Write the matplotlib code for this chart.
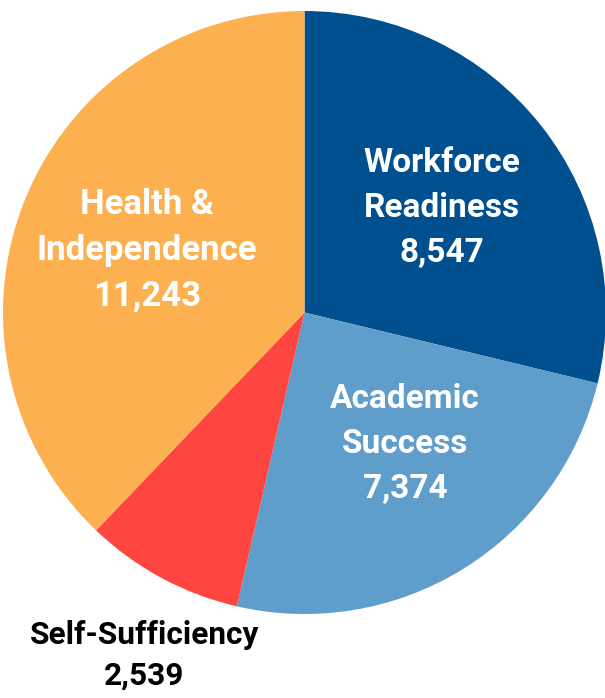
import matplotlib.pyplot as plt

# Data
categories = ['Workforce\nReadiness', 'Academic\nSuccess', 'Self-Sufficiency', 'Health &\nIndependence']
values = [8547, 7374, 2539, 11243]
colors = ['#00508F', '#5F9ECB', '#FF453F', '#FDB050']
text_colors = ['white', 'white', 'black', 'white']
# label centres (x, y) in pie units, font sizes and line spacing
label_pos = [(0.456, 0.347), (0.333, -0.436), (-0.532, -1.136), (-0.522, 0.207)]
label_size = [24, 24, 22.8, 25]
label_spacing = [1.52, 1.52, 1.42, 1.48]

fig = plt.figure(figsize=(6.05, 6.98), dpi=100)
ax = fig.add_axes([0.005, 0.1203, 0.9967, 0.8639])

ax.pie(values, colors=colors, startangle=90, counterclock=False,
       radius=1, wedgeprops=dict(linewidth=0))

for cat, val, tc, (x, y), fs, ls in zip(categories, values, text_colors,
                                        label_pos, label_size, label_spacing):
    ax.text(x, y, f"{cat}\n{val:,}", ha='center', va='center',
            color=tc, fontsize=fs, fontweight='bold', family='Roboto',
            linespacing=ls)

ax.set_xlim(-1, 1)
ax.set_ylim(-1, 1)
ax.set_aspect('equal')
ax.axis('off')

fig.savefig('out.png', dpi=100)
